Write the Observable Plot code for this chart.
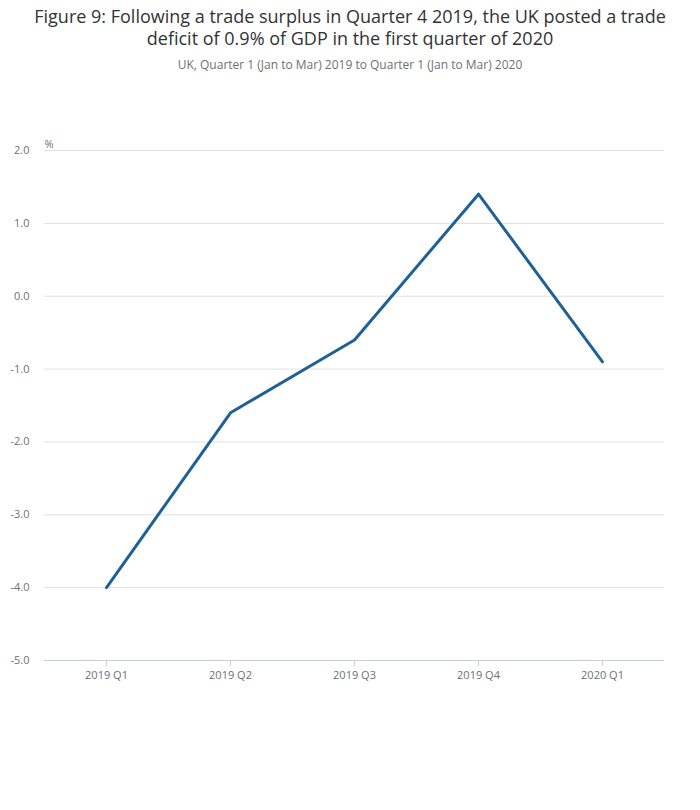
<!DOCTYPE html>
<html>
<head>
<meta charset="utf-8">
<script src="https://cdn.jsdelivr.net/npm/d3@7"></script>
<script src="https://cdn.jsdelivr.net/npm/@observablehq/plot@0.6"></script>
<style>
  html, body { margin: 0; padding: 0; background: #fff; }
  body { width: 700px; font-family: "Open Sans", sans-serif; }
  #head { height: 80px; text-align: center; position: relative; }
  #title { position: absolute; top: 5px; left: 0; width: 700px; font-size: 18px; line-height: 22px; color: #333; }
  #subtitle { position: absolute; top: 56px; left: 0; width: 700px; font-size: 12px; color: #707070; }
  #chart svg { display: block; }
</style>
</head>
<body>
<div id="head">
  <div id="title">Figure 9: Following a trade surplus in Quarter 4 2019, the UK posted a trade<br>deficit of 0.9% of GDP in the first quarter of 2020</div>
  <div id="subtitle">UK, Quarter 1 (Jan to Mar) 2019 to Quarter 1 (Jan to Mar) 2020</div>
</div>
<div id="chart"></div>
<script>
const quarters = ["2019 Q1", "2019 Q2", "2019 Q3", "2019 Q4", "2020 Q1"];
const balance = [-4.0, -1.6, -0.6, 1.4, -0.9];
const yTicks = [-5, -4, -3, -2, -1, 0, 1, 2];
const unitLabel = "%";

const data = quarters.map((q, i) => ({quarter: q, value: balance[i]}));

const chart = Plot.plot({
  width: 700,
  height: 620,
  marginTop: 70,
  marginBottom: 40,
  marginLeft: 44,
  marginRight: 36,
  style: {fontFamily: "Open Sans, sans-serif", fontSize: "11px", color: "#707070", background: "#fff"},
  x: {type: "point", domain: quarters, padding: 0.5, label: null},
  y: {domain: [-5, 2], label: null},
  marks: [
    Plot.gridY(yTicks, {stroke: "#e0e0e0", strokeOpacity: 1}),
    Plot.axisY(yTicks, {tickFormat: d => d.toFixed(1), tickSize: 0, tickPadding: 15, fill: "#707070", fontSize: 11}),
    Plot.ruleY([-5], {stroke: "#c5cde3", strokeWidth: 1}),
    Plot.axisX({tickSize: 6, stroke: "#c5cde3", tickPadding: 5, fill: "#707070", fontSize: 11}),
    Plot.lineY(data, {x: "quarter", y: "value", stroke: "#206095", strokeWidth: 3}),
    Plot.text([unitLabel], {frameAnchor: "top-left", dx: 0, dy: -10, fill: "#707070", fontSize: 11, textAnchor: "start"})
  ]
});
document.getElementById("chart").appendChild(chart);
</script>
</body>
</html>
